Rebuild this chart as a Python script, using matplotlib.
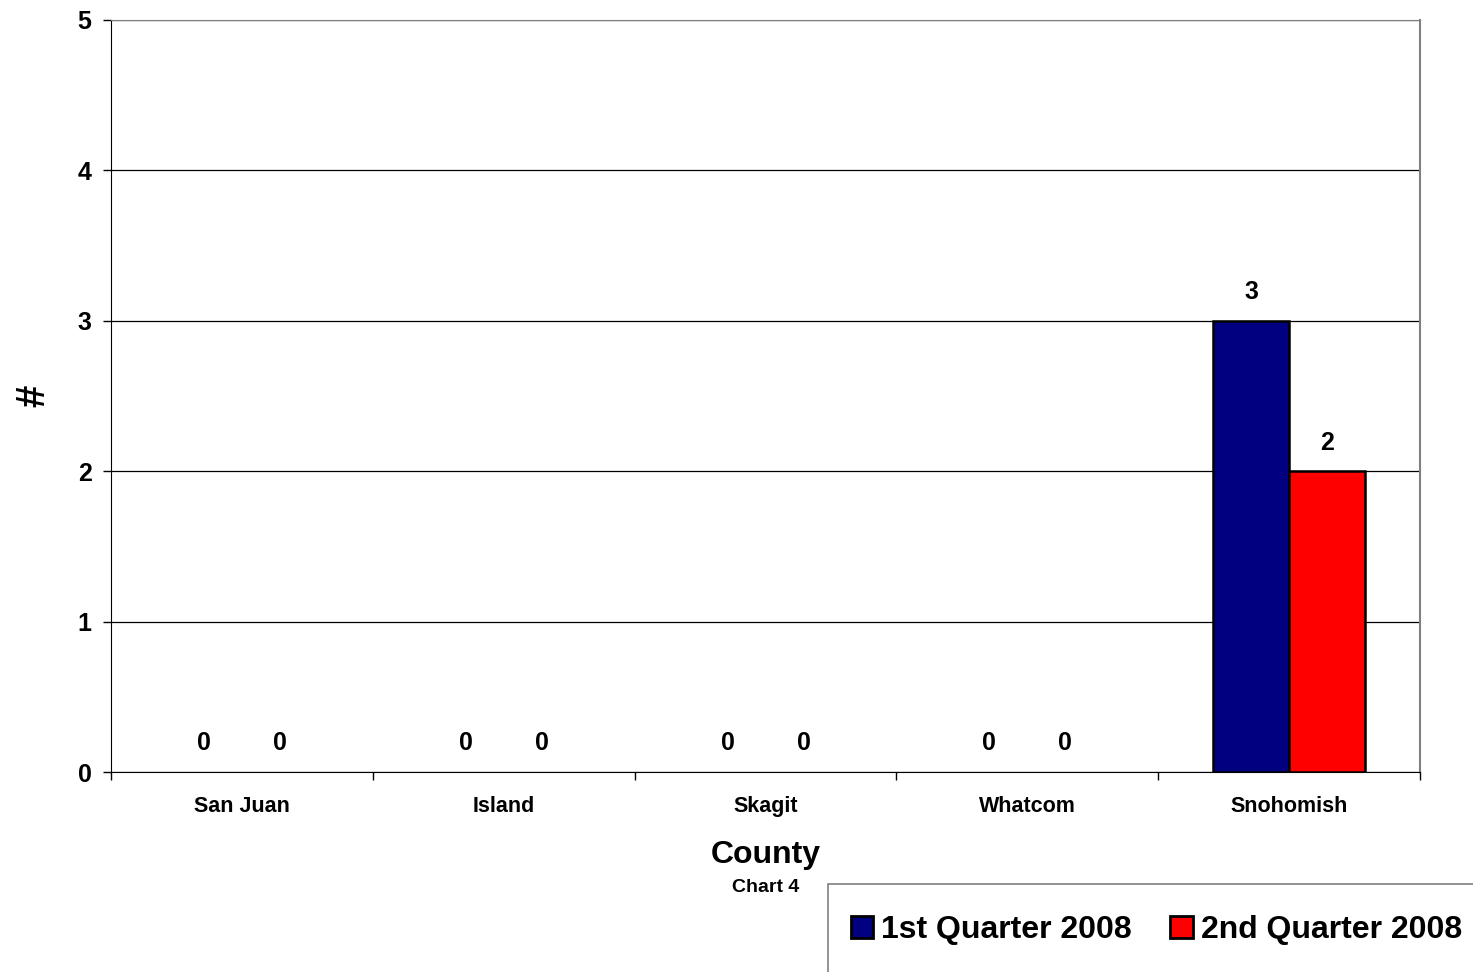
import numpy as np
import matplotlib.pyplot as plt
from matplotlib.patches import Rectangle, Patch

plt.rcParams['font.family'] = ['Liberation Sans', 'DejaVu Sans']
plt.rcParams['font.weight'] = 'bold'

counties = ['San Juan', 'Island', 'Skagit', 'Whatcom', 'Snohomish']
q1_2008 = [0, 0, 0, 0, 3]
q2_2008 = [0, 0, 0, 0, 2]
series_names = ['1st Quarter 2008', '2nd Quarter 2008']
colors = ['#000080', '#FF0000']

W, H = 1473, 972
fig = plt.figure(figsize=(W / 100, H / 100), dpi=100)
ax = fig.add_axes([111/W, 1 - 772/H, (1420 - 111)/W, (772 - 20)/H])

x = np.arange(len(counties))
w = 0.29
for i, vals in enumerate([q1_2008, q2_2008]):
    b = ax.bar(x + (i - 0.5) * w, vals, w, color=colors[i], edgecolor='black',
               linewidth=1.8, label=series_names[i], zorder=3)
    for rect, v in zip(b, vals):
        if v == 0:
            rect.set_linewidth(0)
    for xi, v in zip(x + (i - 0.5) * w, vals):
        ax.annotate(str(v), (xi, v), xytext=(0, 12), textcoords='offset points',
                    ha='center', va='bottom', fontsize=18, fontweight='bold')

ax.set_xlim(-0.5, len(counties) - 0.5)
ax.set_ylim(0, 5)
ax.set_yticks(range(6))
ax.tick_params(axis='y', labelsize=18, length=6, width=1, direction='out', pad=8)
ax.yaxis.grid(True, color='black', linewidth=0.9, zorder=0)

ax.set_xticks(x)
ax.set_xticklabels(counties, fontsize=15.5, fontweight='bold')
ax.set_xticks(np.arange(-0.5, len(counties)), minor=True)
ax.tick_params(axis='x', which='major', length=0, pad=17)
ax.tick_params(axis='x', which='minor', length=6, width=1, direction='out')

ax.spines['top'].set_color('#808080')
ax.spines['right'].set_color('#808080')
ax.spines['right'].set_linewidth(1.5)
ax.spines['left'].set_color('black')
ax.spines['bottom'].set_color('black')

ax.set_ylabel('#', fontsize=29, fontweight='bold', labelpad=18)
ax.set_xlabel('County', fontsize=23, fontweight='bold', labelpad=17)
fig.text(766/W, 1 - 888/H, 'Chart 4', ha='center', va='center',
         fontsize=14, fontweight='bold')

# legend frame runs off the right and bottom edge of the image
fig.patches.append(Rectangle((828/W, -0.05), 0.5, 1 - 884/H + 0.05,
                             transform=fig.transFigure, facecolor='none',
                             edgecolor='#808080', linewidth=1.2))
handles = [Patch(facecolor=c, edgecolor='black', linewidth=2) for c in colors]
leg = fig.legend(handles=handles, labels=series_names, loc='center left',
                 bbox_to_anchor=(851/W, 1 - 930/H), ncol=2, frameon=False,
                 handlelength=0.7, handleheight=0.7, handletextpad=0.25,
                 columnspacing=1.2, borderpad=0, borderaxespad=0,
                 prop={'weight': 'bold', 'size': 23})

fig.savefig('out.png', dpi=100)
